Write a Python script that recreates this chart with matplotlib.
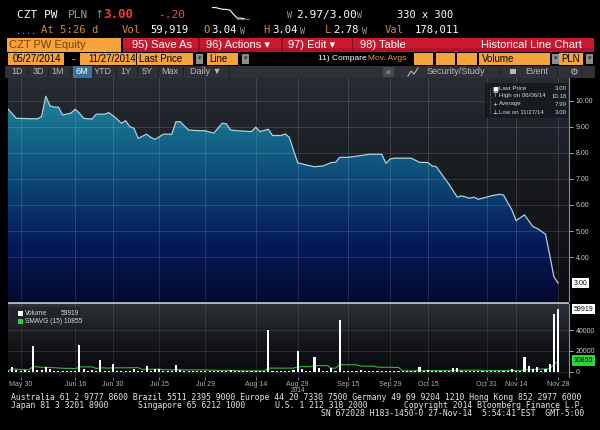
import numpy as np
import pandas as pd
import matplotlib
matplotlib.use("Agg")
import matplotlib.pyplot as plt
from matplotlib.patches import Rectangle
from matplotlib.lines import Line2D
from matplotlib.colors import LinearSegmentedColormap

plt.rcParams['font.family'] = ['Liberation Sans', 'DejaVu Sans']

# price line vertices (session index from 05/27/2014, PLN)
price_idx = [0, 2, 7, 8, 9, 10, 11, 12, 13, 15, 16, 17, 18, 20, 21, 23, 24, 25, 26, 27,
             28, 29, 30, 31, 33, 34, 35, 37, 39, 40, 41, 43, 45, 47, 49, 50, 51, 52, 53, 55,
             58, 59, 60, 62, 63, 65, 66, 67, 68, 69, 71, 73, 75, 77, 78, 79, 81, 84, 86, 89,
             90, 91, 92, 96, 98, 100, 101, 102, 104, 105, 107, 108, 110, 111, 112, 114, 115, 117, 118, 120,
             121, 123, 125, 126, 128, 129, 130, 131]
price_val = [9.69, 9.33, 9.31, 9.40, 10.18, 9.81, 9.76, 9.76, 9.46, 9.53, 9.68, 9.53, 9.33, 9.30, 9.49, 9.49, 9.55, 9.43, 9.30, 9.14,
             9.24, 9.01, 8.95, 8.56, 8.72, 8.60, 8.52, 8.72, 8.72, 9.20, 9.20, 8.88, 8.86, 8.85, 8.76, 8.95, 9.14, 9.12, 8.88, 8.85,
             8.82, 8.99, 8.82, 8.91, 8.67, 8.67, 8.73, 8.60, 8.10, 7.62, 7.54, 7.47, 7.50, 7.63, 7.64, 7.83, 7.83, 7.90, 7.95, 7.95,
             7.60, 7.77, 7.80, 7.80, 7.64, 7.63, 7.50, 7.47, 7.02, 6.80, 6.30, 6.35, 6.26, 6.30, 6.22, 6.30, 6.35, 6.41, 6.38, 5.81,
             5.40, 5.62, 5.17, 5.10, 4.88, 4.08, 3.24, 3.00]

# daily volume, one value per session
volume = [1200, 5000, 2000, 900, 2000, 1000, 25000, 1500, 1500, 4500,
          3000, 1000, 800, 1200, 900, 1000, 1100, 26000, 3000, 1000,
          2000, 900, 11400, 1000, 1200, 7600, 1000, 800, 1300, 900,
          2500, 1000, 1100, 5300, 1000, 3200, 2500, 1200, 900, 1000,
          6700, 1500, 1200, 800, 1000, 1100, 900, 1300, 1000, 1200,
          800, 1100, 1400, 2000, 1000, 900, 1200, 800, 1000, 1100,
          900, 1200, 40000, 1000, 1300, 900, 1200, 1000, 1500, 20000,
          3000, 1200, 800, 14000, 3500, 1000, 900, 3500, 1200, 50000,
          1000, 1300, 900, 1100, 1500, 1000, 800, 1200, 900, 1000,
          1100, 900, 800, 1200, 1000, 1300, 900, 1000, 4500, 1100,
          1500, 1200, 1000, 900, 800, 1100, 3500, 3500, 1200, 1400,
          1000, 900, 1200, 1000, 800, 1300, 1000, 900, 800, 1000,
          3000, 800, 1200, 14500, 6000, 3000, 5000, 1000, 3000, 7700,
          55000, 59919]

tick_pos = [3, 16, 25, 36, 47, 59, 69, 81, 91, 100, 114, 121, 131]
tick_lab = ["May 30", "Jun 16", "Jun 30", "Jul 15", "Jul 29", "Aug 14", "Aug 29",
            "Sep 15", "Sep 29", "Oct 15", "Oct 31", "Nov 14", "Nov 28"]
price_ticks = [4, 5, 6, 7, 8, 9, 10]
vol_ticks = [0, 20000, 40000]

last_price = 3.00
high_price = 10.18
avg_price = 7.99
low_price = 3.00
sma_window = 15

intraday = [3.10, 3.10, 3.09, 3.08, 3.08, 3.07, 3.02, 2.98, 2.98, 2.97]

W, H = 600, 430
MONO = ['DejaVu Sans Mono']
ORANGE = "#f5a33a"
TAN = "#d08c34"
GREY = "#9a9a9a"


def fx(px):
    return px / W


def fy(py):
    return 1 - py / H


fig = plt.figure(figsize=(6, 4.3), dpi=100, facecolor="black")


def txt(x, y, s, color="white", size=7, ha="left", **kw):
    fig.text(fx(x), fy(y), s, color=color, fontsize=size, ha=ha, va="center", **kw)


def rect(x0, y0, x1, y1, color, **kw):
    fig.add_artist(Rectangle((fx(x0), fy(y1)), (x1 - x0) / W, (y1 - y0) / H,
                             transform=fig.transFigure, facecolor=color,
                             edgecolor="none", **kw))


#####################
# header
#####################
txt(17, 15, "CZT PW", size=8, family=MONO)
txt(68, 15, "PLN", color=GREY, size=8, family=MONO)
txt(95, 15, "\u2191", color="#2ecc40", size=8, family=['DejaVu Sans'])
txt(103, 15, "3.00", color="#ff3535", size=9, weight="bold", family=MONO)
txt(158, 15, "-.20", color="#ff4545", size=8, family=MONO)
txt(287, 16, "W", color=GREY, size=6, family=MONO)
txt(296, 15, "2.97/3.00", size=8, family=MONO)
txt(357, 16, "W", color=GREY, size=6, family=MONO)
txt(397, 15, "330 x 300", size=7.5, family=MONO)

spark = fig.add_axes([fx(212), fy(20), 38 / W, 13 / H])
spark.plot(range(len(intraday)), intraday, color="white", lw=0.8)
spark.plot([len(intraday) - 3, len(intraday) + 0.5], [2.965, 2.965], color="#ff3535", lw=0.8)
spark.set_xlim(0, len(intraday) + 0.5)
spark.axis("off")

txt(16, 31, "....", color=GREY, size=6, family=MONO)
txt(41, 30, "At 5:26 d", color=TAN, size=7.6, family=MONO)
txt(122, 30, "Vol", color=TAN, size=7.6, family=MONO)
txt(150, 30, "59,919", size=7.6, family=MONO)
txt(203, 30, "O", color=TAN, size=7.6, family=MONO)
txt(211, 30, "3.04", size=7.6, family=MONO)
txt(240, 31, "W", color=GREY, size=6, family=MONO)
txt(263, 30, "H", color=TAN, size=7.6, family=MONO)
txt(272, 30, "3.04", size=7.6, family=MONO)
txt(300, 31, "W", color=GREY, size=6, family=MONO)
txt(325, 30, "L", color=TAN, size=7.6, family=MONO)
txt(333, 30, "2.78", size=7.6, family=MONO)
txt(362, 31, "W", color=GREY, size=6, family=MONO)
txt(385, 30, "Val", color=TAN, size=7.6, family=MONO)
txt(415, 30, "178,011", size=7.6, family=MONO)

# red toolbar
rect(7, 38, 121, 52, ORANGE)
txt(9, 45, "CZT PW Equity", color="#7a4000", size=8)
rect(123, 38, 594, 52, "#c8192e")
rect(123, 48, 594, 52, "#b3132a")
for sx in [198, 281, 352]:
    rect(sx, 38, sx + 1.5, 52, "#8c0f1f")
txt(132, 45, "95) Save As", size=8)
txt(206, 45, "96) Actions \u25be", size=8)
txt(288, 45, "97) Edit \u25be", size=8)
txt(360, 45, "98) Table", size=8)
txt(582, 45, "Historical Line Chart", size=8, ha="right")

# date / options row
rect(8, 53, 64, 65, ORANGE)
txt(13, 59, "05/27/2014", color="black", size=7)
txt(72, 59, "-", size=7)
rect(80, 53, 136, 65, ORANGE)
txt(88, 59, "11/27/2014", color="black", size=7)
rect(137, 53, 193, 65, ORANGE)
txt(139, 59, "Last Price", color="black", size=7)
rect(207, 53, 238, 65, ORANGE)
txt(209, 59, "Line", color="black", size=7)
rect(414, 53, 433, 65, ORANGE)
rect(436, 53, 455, 65, ORANGE)
rect(457, 53, 477, 65, ORANGE)
rect(479, 53, 550, 65, ORANGE)
txt(482, 59, "Volume", color="black", size=7)
rect(559, 53, 583, 65, ORANGE)
txt(561, 59, "PLN", color="black", size=7)
for bx in [196, 242, 552, 586]:
    rect(bx, 54, bx + 7, 64, "#8d8d8d")
    txt(bx + 3.5, 59, "\u25be", color="#333333", size=5, ha="center")
txt(318, 59, "11) Compare", size=6)
txt(368, 59, "Mov. Avgs", color="#e6a23c", size=6)

# period tabs
rect(5, 66, 595, 78, "#2e3135")
rect(73, 66, 92, 78, "#3b6fa0")
tabs = [(17, "1D"), (38, "3D"), (58, "1M"), (82, "6M"), (103, "YTD"), (126, "1Y"),
        (147, "5Y"), (170, "Max"), (206, "Daily \u25bc")]
for cx, lab in tabs:
    txt(cx, 72, lab, color="white" if lab == "6M" else "#b9b9b9", size=6.5, ha="center")
for sx in [27, 48, 70, 93, 116, 137, 158, 183, 229, 499, 557]:
    rect(sx, 67, sx + 1, 77, "#1c1e21")
rect(383, 67, 394, 77, "#45484d")
txt(388.5, 72, "\u00ab", color="#b9b9b9", size=6.5, ha="center")
fig.add_artist(Line2D([fx(408), fx(411), fx(414), fx(418)], [fy(76), fy(71), fy(74), fy(68)],
                      transform=fig.transFigure, color="#b9b9b9", lw=0.8))
txt(427, 72, "Security/Study", color="#b9b9b9", size=6.5)
rect(510, 69, 516, 74, "#b9b9b9")
txt(525, 72, "Event", color="#b9b9b9", size=6.5)
txt(573, 72, "\u2699", color="#b9b9b9", size=7, ha="center", family=['DejaVu Sans'])

#####################
# price panel
#####################
grad = np.linspace(1, 0, 256).reshape(-1, 1)
bg_cmap = LinearSegmentedColormap.from_list("bg", ["#0c0d11", "#17191e", "#272c33"])
fill_cmap = LinearSegmentedColormap.from_list(
    "fill", ["#040a30", "#06195a", "#0b4272", "#15698a", "#2a8fa2"])

axp = fig.add_axes([fx(8), fy(301), (569 - 8) / W, (301 - 78) / H])
px0, px1 = 0, 133.6
py0, py1 = 2.31, 10.88
axp.imshow(grad, extent=[px0, px1, py0, py1], aspect="auto", cmap=bg_cmap, zorder=0)
poly = axp.fill_between(price_idx, price_val, py0, facecolor="none", edgecolor="none")
im = axp.imshow(grad, extent=[px0, px1, py0, py1], aspect="auto", cmap=fill_cmap, zorder=1)
im.set_clip_path(poly.get_paths()[0], transform=axp.transData)
axp.plot(price_idx, price_val, color="#a9d3de", lw=0.9, zorder=3)
axp.set_xlim(px0, px1)
axp.set_ylim(py0, py1)
axp.set_xticks(tick_pos)
axp.set_yticks(price_ticks)
axp.set_yticklabels(["%.2f" % v for v in price_ticks])
axp.yaxis.tick_right()
axp.tick_params(axis="x", length=0, labelbottom=False)
axp.tick_params(axis="y", colors="#c8c8c8", labelsize=5, length=3, width=0.6, pad=2)
axp.grid(True, color="white", alpha=0.13, lw=0.7)
for s in ["left", "top", "bottom"]:
    axp.spines[s].set_visible(False)
axp.spines["right"].set_color("#8a8f96")
axp.spines["right"].set_linewidth(0.8)
axp.text(1.008, last_price, "%.2f" % last_price, transform=axp.get_yaxis_transform(),
         ha="left", va="center", fontsize=5, color="black",
         bbox=dict(boxstyle="square,pad=0.25", fc="white", ec="none"))

# price legend
rect(485, 83, 568, 118, "#15191e", alpha=0.85)
fig.add_artist(Line2D([fx(490), fx(490)], [fy(88), fy(114)], transform=fig.transFigure,
                      color="#888888", lw=0.5, ls=(0, (1, 1))))
rows = [(89, "\u25a0", "Last Price", last_price), (96, "\u22a4", "High on 06/06/14", high_price),
        (104, "+", "Average", avg_price), (112, "\u22a5", "Low on 11/27/14", low_price)]
for ry, mk, lab, val in rows:
    txt(495, ry, mk, color="white", size=4.5, ha="center", family=['DejaVu Sans'])
    txt(499, ry, lab, color="#d6d6d6", size=4.4)
    txt(567, ry, "%.2f" % val, color="#d6d6d6", size=4.4, ha="right")

#####################
# volume panel
#####################
rect(8, 301.5, 569, 303.8, "#a9afb8")
vbg_cmap = LinearSegmentedColormap.from_list("vbg", ["#08090b", "#15171b", "#2d3238"])
axv = fig.add_axes([fx(8), fy(377), (569 - 8) / W, (377 - 304) / H])
vy0, vy1 = -4762, 64762
axv.imshow(grad, extent=[px0, px1, vy0, vy1], aspect="auto", cmap=vbg_cmap, zorder=0)
sessions = np.arange(len(volume))
sma = pd.Series(volume).rolling(sma_window, min_periods=1).mean()
axv.plot(sessions, sma, color="#3cb043", lw=0.8, zorder=2)
axv.bar(sessions, volume, width=0.5, color="white", zorder=3)
axv.set_xlim(px0, px1)
axv.set_ylim(vy0, vy1)
axv.set_xticks(tick_pos)
axv.set_xticklabels(tick_lab)
axv.set_yticks(vol_ticks)
axv.set_yticklabels([str(v) for v in vol_ticks])
axv.yaxis.tick_right()
axv.tick_params(axis="x", colors="#b0b0b0", labelsize=5, length=2, width=0.5, pad=1)
axv.tick_params(axis="y", colors="#c8c8c8", labelsize=5, length=3, width=0.6, pad=2)
axv.grid(True, color="white", alpha=0.1, lw=0.7)
for s in ["left", "top", "bottom"]:
    axv.spines[s].set_visible(False)
axv.spines["right"].set_color("#8a8f96")
axv.spines["right"].set_linewidth(0.8)
axv.text(tick_pos[6], -(387.5 - 377) / 73, "2014", transform=axv.get_xaxis_transform(),
         ha="center", va="top", fontsize=4.8, color="#b0b0b0")
axv.text(1.008, volume[-1], str(volume[-1]), transform=axv.get_yaxis_transform(),
         ha="left", va="center", fontsize=5, color="black",
         bbox=dict(boxstyle="square,pad=0.25", fc="white", ec="none"))
axv.text(1.008, sma.iloc[-1], "%d" % round(sma.iloc[-1]), transform=axv.get_yaxis_transform(),
         ha="left", va="center", fontsize=5, color="black",
         bbox=dict(boxstyle="square,pad=0.25", fc="#2fd13f", ec="none"))

# volume legend
rect(9, 307, 80, 327, "#202429", alpha=0.9)
rect(18, 311, 23, 316, "white")
rect(18, 319, 23, 324, "#2fd13f")
txt(25, 313.5, "Volume", color="#d6d6d6", size=4.8)
txt(79, 313.5, str(volume[-1]), color="#d6d6d6", size=4.8, ha="right")
txt(25, 321.5, "SMAVG (%d) %d" % (sma_window, round(sma.iloc[-1])), color="#d6d6d6", size=4.8)

#####################
# footer
#####################
txt(11, 398, "Australia 61 2 9777 8600 Brazil 5511 2395 9000 Europe 44 20 7330 7500 "
    "Germany 49 69 9204 1210 Hong Kong 852 2977 6000", color="#e6e6e6", size=5.9, family=MONO)
txt(11, 406, "Japan 81 3 3201 8900", color="#e6e6e6", size=5.9, family=MONO)
txt(138, 406, "Singapore 65 6212 1000", color="#e6e6e6", size=5.9, family=MONO)
txt(275, 406, "U.S. 1 212 318 2000", color="#e6e6e6", size=5.9, family=MONO)
txt(584, 406, "Copyright 2014 Bloomberg Finance L.P.", color="#e6e6e6", size=5.9, ha="right", family=MONO)
txt(584, 414, "SN 672028 H183-1450-0 27-Nov-14  5:54:41 EST  GMT-5:00", color="#e6e6e6",
    size=5.9, ha="right", family=MONO)

fig.savefig("out.png", dpi=100, facecolor="black")
